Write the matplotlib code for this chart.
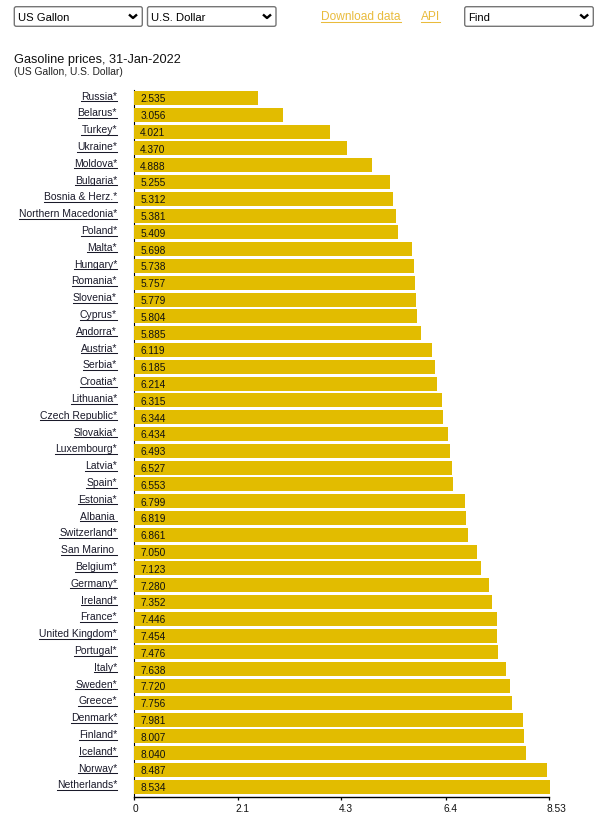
import matplotlib
matplotlib.use('Agg')
import matplotlib.pyplot as plt
from matplotlib.patches import FancyBboxPatch
from matplotlib.transforms import ScaledTranslation

plt.rcParams['font.family'] = ['Liberation Sans', 'DejaVu Sans']

countries = ['Russia*', 'Belarus*', 'Turkey*', 'Ukraine*', 'Moldova*', 'Bulgaria*', 'Bosnia & Herz.*',
             'Northern Macedonia*', 'Poland*', 'Malta*', 'Hungary*', 'Romania*', 'Slovenia*', 'Cyprus*',
             'Andorra*', 'Austria*', 'Serbia*', 'Croatia*', 'Lithuania*', 'Czech Republic*', 'Slovakia*',
             'Luxembourg*', 'Latvia*', 'Spain*', 'Estonia*', 'Albania ', 'Switzerland*', 'San Marino ',
             'Belgium*', 'Germany*', 'Ireland*', 'France*', 'United Kingdom*', 'Portugal*', 'Italy*',
             'Sweden*', 'Greece*', 'Denmark*', 'Finland*', 'Iceland*', 'Norway*', 'Netherlands*']
prices = [2.535, 3.056, 4.021, 4.370, 4.888, 5.255, 5.312, 5.381, 5.409, 5.698, 5.738, 5.757, 5.779, 5.804,
          5.885, 6.119, 6.185, 6.214, 6.315, 6.344, 6.434, 6.493, 6.527, 6.553, 6.799, 6.819, 6.861, 7.050,
          7.123, 7.280, 7.352, 7.446, 7.454, 7.476, 7.638, 7.720, 7.756, 7.981, 8.007, 8.040, 8.487, 8.534]
tick_values = [0, 2.12, 4.25, 6.40, 8.51]
tick_labels = ['0', '2.1', '4.3', '6.4', '8.53']

W, H = 606, 818
BAR = '#E2BC00'
LINK = '#E9BB3C'
SCALE = 48.68

fig = plt.figure(figsize=(W / 100, H / 100), dpi=100, facecolor='white')

# overlay in picture pixels, for the page controls and underlines
ui = fig.add_axes([0, 0, 1, 1], zorder=3)
ui.set_xlim(0, W)
ui.set_ylim(H, 0)
ui.axis('off')

# chart axes, pixel bounds 134.3-606 and 90-797.3
left, top, bottom = 134.3, 90.0, 797.3
ax = fig.add_axes([left / W, 1 - bottom / H, (W - left) / W, (bottom - top) / H], zorder=2)
ax.patch.set_alpha(0)
pitch = 16.8
ax.set_xlim(0, (W - left) / SCALE)
ax.set_ylim((bottom - 98) / pitch, (top - 98) / pitch)

pos = list(range(len(countries)))
ax.barh(pos, prices, height=14 / pitch, color=BAR, zorder=3)
ax.spines[['top', 'right']].set_visible(False)
ax.spines['left'].set_zorder(1)
ax.spines['left'].set_linewidth(0.8)
ax.spines['bottom'].set_linewidth(1.0)
ax.spines['bottom'].set_bounds(0, tick_values[-1])
ax.set_yticks([])
ax.set_xticks(tick_values)
ax.set_xticklabels(tick_labels, fontsize=7.3, ha='left', color='#111111')
ax.tick_params(axis='x', length=2.4, width=0.9, pad=2.2)
for lab in ax.get_xticklabels():
    lab.set_transform(lab.get_transform() + ScaledTranslation(-2 / 100, 0, fig.dpi_scale_trans))

labels = []
for i, (name, val) in enumerate(zip(countries, prices)):
    ax.text(6 / SCALE, i + 0.26, f'{val:.3f}', fontsize=7.25, color='#111111', va='baseline', ha='left', zorder=4)
    labels.append(ax.text(-17.3 / SCALE, i + 0.1, name, fontsize=7.45, color='#1a1a2a', va='baseline', ha='right'))

ui.text(14, 63.5, 'Gasoline prices, 31-Jan-2022', fontsize=9.2, color='#111111', va='baseline')
ui.text(14, 75, '(US Gallon, U.S. Dollar)', fontsize=7.4, color='#222222', va='baseline')

# page controls
selects = [(14.3, 142.3, 'US Gallon', 133), (147.5, 276, 'U.S. Dollar', 267), (464.7, 593.3, 'Find', 584.2)]
for x0, x1, label, chev in selects:
    ui.add_patch(FancyBboxPatch((x0, 6.7), x1 - x0, 19.6, boxstyle='round,pad=0,rounding_size=2',
                                fc='white', ec='#767676', lw=1.0))
    ui.text(x0 + 3.6, 21, label, fontsize=8.1, color='black', va='baseline')
    ui.plot([chev - 4, chev, chev + 4], [14.5, 18, 14.5], color='black', lw=1.7, solid_capstyle='butt')

links = [ui.text(321.3, 20, 'Download data', fontsize=8.6, color=LINK, va='baseline'),
         ui.text(420.8, 20, 'API', fontsize=8.6, color=LINK, va='baseline')]

# underlines sized from the rendered text
fig.canvas.draw()
inv = ui.transData.inverted()
for t in labels:
    bb = t.get_window_extent()
    x0 = inv.transform((bb.x0, bb.y0))[0]
    x1 = inv.transform((bb.x1, bb.y0))[0]
    ybase = inv.transform(ax.transData.transform(t.get_position()))[1]
    ui.plot([x0, x1], [ybase + 1.5, ybase + 1.5], color='#1a1a2a', lw=0.75)
for t in links:
    bb = t.get_window_extent()
    x0 = inv.transform((bb.x0, bb.y0))[0]
    x1 = inv.transform((bb.x1, bb.y0))[0]
    ui.plot([x0, x1], [21.5, 21.5], color=LINK, lw=0.75)
ui.set_xlim(0, W)
ui.set_ylim(H, 0)

fig.savefig('out.png', dpi=100)
